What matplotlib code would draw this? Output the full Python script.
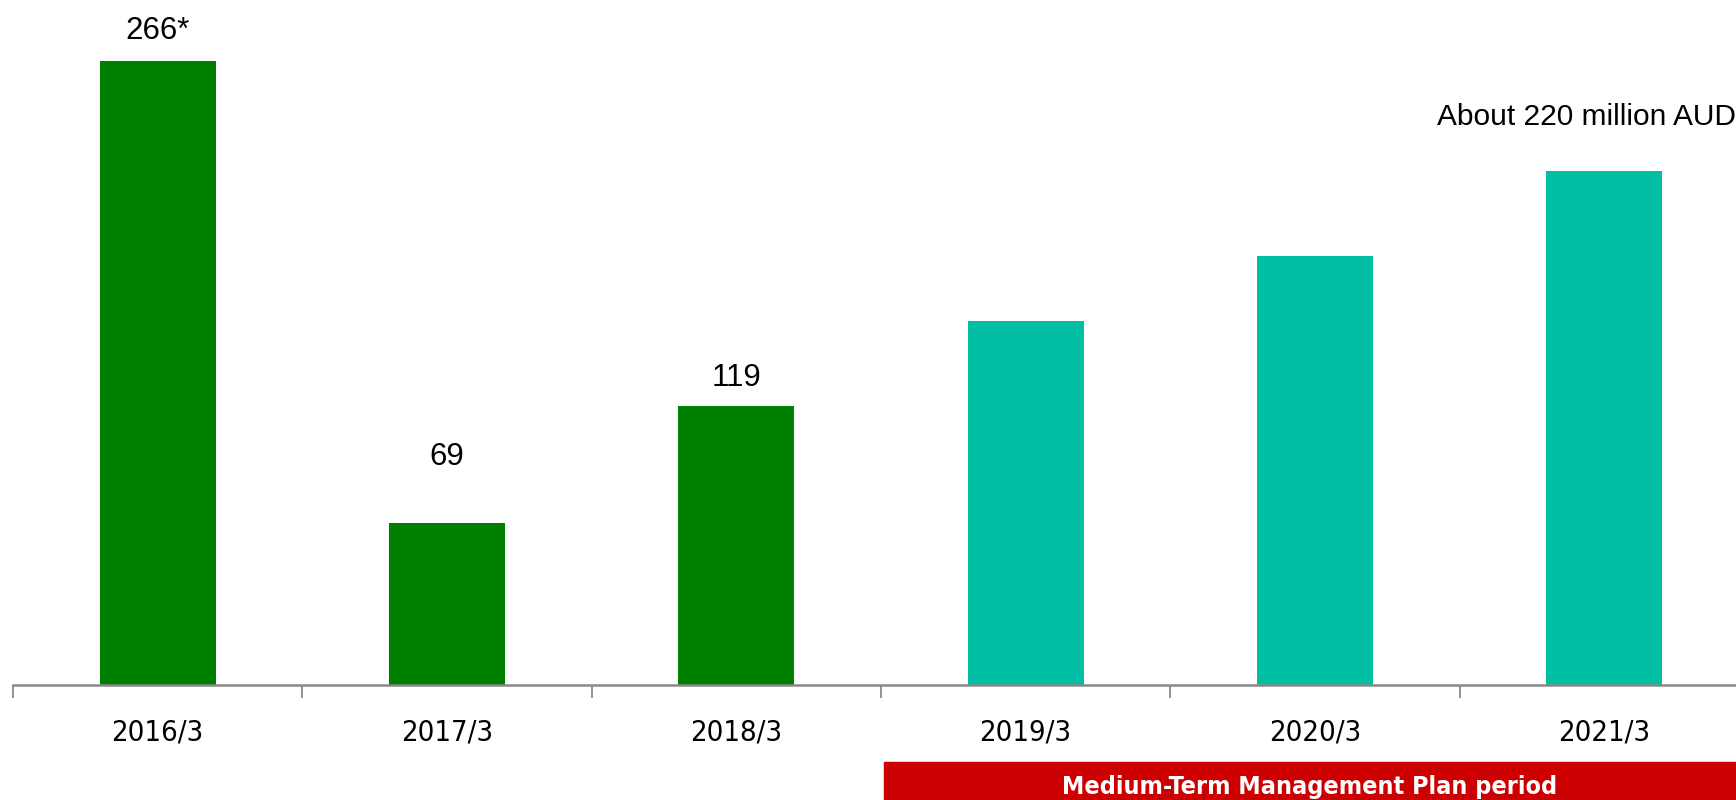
import matplotlib
matplotlib.use("Agg")
import matplotlib.pyplot as plt
from matplotlib.patches import Rectangle
from matplotlib.transforms import blended_transform_factory

# datos
anios = ["2016/3", "2017/3", "2018/3", "2019/3", "2020/3", "2021/3"]
valores = [266, 69, 119, 155, 183, 219]
etiquetas = ["266*", "69", "119", "", "", "About 220 million AUD"]
plan = [False, False, False, True, True, True]

verde = "#008000"
turquesa = "#00BFA5"
rojo = "#CC0000"
gris = "#898989"

fig = plt.figure(figsize=(17.36, 8), dpi=100)
ax = fig.add_axes([13 / 1736, 1 - 685 / 800, 1.0, 685 / 800])

colores = [turquesa if p else verde for p in plan]
x = list(range(len(anios)))
ax.bar(x, valores, width=0.4, color=colores)

ax.set_xlim(-0.5, 5.5)
ax.set_ylim(0, 292)

# etiquetas de valores
desfases = [11, 37, 9, 0, 0, 29]
for i, (v, t) in enumerate(zip(valores, etiquetas)):
    if not t:
        continue
    if i == len(valores) - 1:
        ax.annotate(t, (i, v), xytext=(-13, desfases[i]), textcoords="offset points",
                    ha="center", va="bottom", fontsize=21.5, family="Liberation Sans")
    else:
        ax.annotate(t, (i, v), xytext=(0, desfases[i]), textcoords="offset points",
                    ha="center", va="bottom", fontsize=22.5, family="Liberation Sans")

# ejes
for lado in ["top", "right", "left"]:
    ax.spines[lado].set_visible(False)
ax.spines["bottom"].set_color(gris)
ax.spines["bottom"].set_linewidth(1.8)
ax.set_yticks([])
ax.set_xticks(x)
ax.set_xticklabels(anios, fontsize=21, family="DejaVu Sans", fontstretch="condensed")
ax.tick_params(axis="x", which="major", length=0, pad=24)
ax.set_xticks([i - 0.5 for i in range(len(anios) + 1)], minor=True)
ax.tick_params(axis="x", which="minor", length=9, width=1.3, color=gris)

# recuadro del plan
trans = blended_transform_factory(ax.transData, fig.transFigure)
caja = Rectangle((2.51, 0), 3.2, 38 / 800, transform=trans, color=rojo, clip_on=False)
fig.patches.append(caja)
fig.text(1310 / 1736, 13 / 800, "Medium-Term Management Plan period", color="white",
         fontsize=18, fontweight="bold", family="DejaVu Sans", fontstretch="condensed",
         ha="center", va="center")

plt.savefig("out.png", dpi=100)
